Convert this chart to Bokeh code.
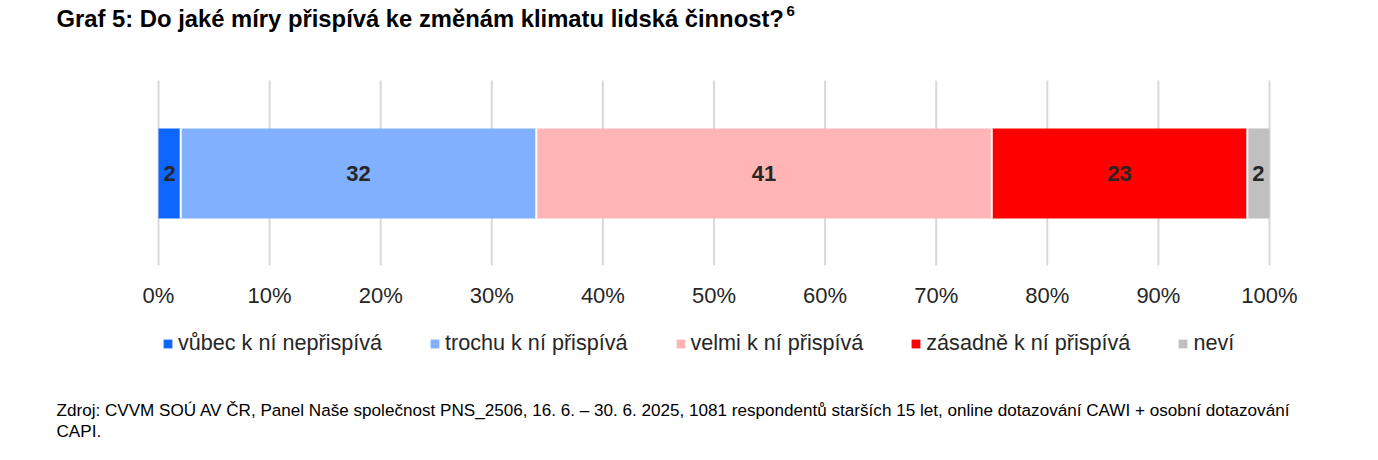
from bokeh.plotting import figure
from bokeh.models import (ColumnDataSource, FixedTicker, PrintfTickFormatter, Legend,
                          LegendItem, Label, Range1d, LinearAxis)
from bokeh.embed import file_html
from bokeh.resources import INLINE
from bokeh.core.properties import value
import numpy as np

# ---- data ----
categories = ["vůbec k ní nepřispívá", "trochu k ní přispívá", "velmi k ní přispívá",
              "zásadně k ní přispívá", "neví"]
values = [2, 32, 41, 23, 2]
x_ticks = [0, 10, 20, 30, 40, 50, 60, 70, 80, 90, 100]
title_text = "Graf 5: Do jaké míry přispívá ke změnám klimatu lidská činnost?"
footnote_mark = "6"
source_lines = [
    "Zdroj: CVVM SOÚ AV ČR, Panel Naše společnost PNS_2506, 16. 6. – 30. 6. 2025, 1081 respondentů starších 15 let, online dotazování CAWI + osobní dotazování",
    "CAPI.",
]

# ---- layout / styles (pixels from the top-left of the canvas) ----
W, H = 1378, 460
PX0, PX100 = 158, 1269          # where 0 % and 100 % sit
PLOT_TOP, PLOT_BOTTOM = 80, 265  # extent of the gridlines
BAR_Y, BAR_H = 173, 90
colors = ["#0f66ff", "#80b0ff", "#ffb5b5", "#ff0000", "#c0c0c0"]
FONT = "Liberation Sans"
TXT = "#262626"

scale = (PX100 - PX0) / 100.0
p = figure(width=W, height=H,
           x_range=Range1d(-PX0 / scale, (W - PX0) / scale),
           y_range=Range1d(H, 0),
           output_backend="svg", toolbar_location=None, title=None,
           x_axis_location=None, y_axis_location=None,
           min_border=0, outline_line_color=None)
p.grid.visible = False

# gridlines at the tick positions
p.segment(x0=x_ticks, x1=x_ticks, y0=[PLOT_TOP] * len(x_ticks),
          y1=[PLOT_BOTTOM] * len(x_ticks), line_color="#d9d9d9", line_width=2)

right = np.cumsum(values)
left = right - np.array(values)
src = ColumnDataSource(dict(
    cat=categories, left=left, right=right, mid=(left + right) / 2,
    val=[str(v) for v in values], color=colors, y=[BAR_Y] * len(values)))

bars = p.hbar(y="y", left="left", right="right", height=BAR_H, fill_color="color",
              line_color=None, source=src)
# thin white separators between the stacked segments
p.segment(x0=right[:-1], x1=right[:-1], y0=[BAR_Y - BAR_H / 2] * (len(values) - 1),
          y1=[BAR_Y + BAR_H / 2] * (len(values) - 1), line_color="white", line_width=2)
p.text(x="mid", y="y", text="val", text_align="center", text_baseline="middle",
       text_font=value(FONT), text_font_style="bold", text_font_size="22px",
       text_color=TXT, source=src)

ax = LinearAxis(fixed_location=PLOT_BOTTOM)
ax.ticker = FixedTicker(ticks=x_ticks)
ax.formatter = PrintfTickFormatter(format="%d%%")
ax.axis_line_color = None
ax.major_tick_line_color = None
ax.minor_tick_line_color = None
ax.major_tick_out = 0
ax.major_tick_in = 0
ax.major_label_standoff = 17
ax.major_label_text_font = FONT
ax.major_label_text_font_size = "22px"
ax.major_label_text_color = TXT
p.add_layout(ax, "below")

items = [LegendItem(label=c, renderers=[bars], index=i) for i, c in enumerate(categories)]
legend = Legend(items=items, orientation="horizontal", location=(162, H - 356),
                glyph_width=11, glyph_height=11, label_standoff=5, spacing=47,
                padding=0, margin=0, border_line_color=None, background_fill_alpha=0,
                label_text_font=FONT, label_text_font_size="21.6px", label_text_color=TXT)
p.add_layout(legend)

p.add_layout(Label(x=56, y=18, x_units="screen", y_units="data", text=title_text,
                   text_font=FONT, text_font_size="23.8px", text_font_style="bold",
                   text_baseline="middle", text_color="black"))
p.add_layout(Label(x=786, y=10, x_units="screen", y_units="data", text=footnote_mark,
                   text_font=FONT, text_font_size="15px", text_font_style="bold",
                   text_baseline="middle", text_color="black"))
for i, line in enumerate(source_lines):
    p.add_layout(Label(x=56, y=410 + 21 * i, x_units="screen", y_units="data",
                       text=line, text_font=FONT, text_font_size="17.1px",
                       text_baseline="middle", text_color="black"))

open("out.html", "w").write(file_html(p, INLINE))
